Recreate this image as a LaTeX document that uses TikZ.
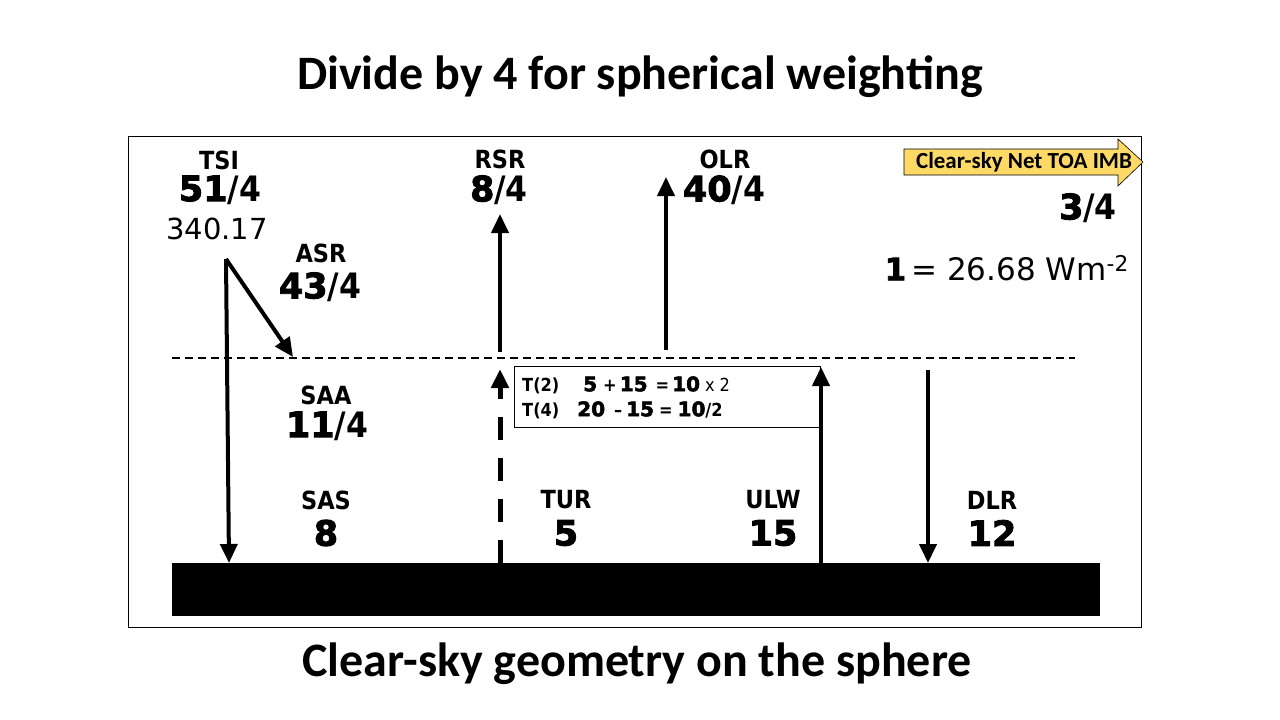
\documentclass[tikz,border=0pt]{standalone}
\usepackage{fontspec}
\setmainfont{DejaVu Sans}
\newfontfamily\ttlfont{Carlito}
\newfontfamily\labfont{DejaVu Sans Condensed}
\newfontfamily\heavyfont{DejaVu Sans}[UprightFont={DejaVu Sans Bold},UprightFeatures={FakeBold=2.5},BoldFont={DejaVu Sans Bold},BoldFeatures={FakeBold=2.5}]
\usetikzlibrary{arrows.meta}
\definecolor{ink}{HTML}{000000}
\definecolor{banner}{HTML}{FFD966}
\newcommand{\hv}[1]{{\heavyfont #1}}
\newcommand{\hvs}[1]{{\heavyfont\fontsize{20}{22}\selectfont #1}}
\tikzset{
  ttl/.style={font=\ttlfont\bfseries\fontsize{48}{52}\selectfont,text=ink,inner sep=0pt},
  lab/.style={font=\labfont\bfseries\fontsize{25}{27}\selectfont,text=ink,inner sep=0pt},
  val/.style={font=\labfont\bfseries\fontsize{35}{37}\selectfont,text=ink,inner sep=0pt},
  reg/.style={font=\fontsize{29}{31}\selectfont,text=ink,inner sep=0pt},
  small/.style={font=\labfont\bfseries\fontsize{18}{20}\selectfont,text=ink,inner sep=0pt,anchor=west},
  ar/.style={-{Triangle[length=19pt,width=17pt]},draw=ink,line width=4pt},
  ard/.style={ar,line width=5pt,dash pattern=on 23pt off 18pt},
  lvl/.style={draw=ink,line width=1.3pt,dash pattern=on 8pt off 5pt},
}
\begin{document}
\begin{tikzpicture}[x=1pt,y=-1pt]
\useasboundingbox (0,0) rectangle (1280,720);
\node[ttl] (toptitle) at (640,77) {Divide by 4 for spherical weighting};
\node[ttl] (bottitle) at (637,664) {Clear-sky geometry on the sphere};
\node[draw=ink,line width=1pt,minimum width=1013pt,minimum height=491pt,inner sep=0pt] (frame) at (634.5,381.5) {};
\node[fill=ink,minimum width=928pt,minimum height=53pt,inner sep=0pt] (ground) at (636,589.5) {};
\coordinate (lvlw) at (172,358);
\coordinate (lvle) at (1075,358);
\draw[lvl] (lvlw) -- (lvle);
% top of atmosphere
\node[lab] (tsilab) at (219,160) {TSI};
\node[val] (tsival) at (220,190) {\hv{51}/4};
\node[reg] (tsiw) at (217,229) {340.17};
\node[lab] (asrlab) at (321,253) {ASR};
\node[val] (asrval) at (320,287) {\hv{43}/4};
\node[lab] (rsrlab) at (500,159) {RSR};
\node[val] (rsrval) at (499,190) {\hv{8}/4};
\node[lab] (olrlab) at (725,159) {OLR};
\node[val] (olrval) at (724,190) {\hv{40}/4};
\fill[banner,draw=ink,line width=.6pt] (904,149) -- (1118,149) -- (1118,139) -- (1143,162) -- (1118,186) -- (1118,175) -- (904,175) -- cycle;
\node[font=\ttlfont\bfseries\fontsize{23}{25}\selectfont,inner sep=0pt] (imb) at (1024,162) {Clear-sky Net TOA IMB};
\node[val] (imbval) at (1088,208) {\hv{3}/4};
\node[reg,font=\fontsize{31}{33}\selectfont,anchor=east] (unit) at (1129,268) {\hv{1}\,= 26.68 Wm\textsuperscript{-2}};
\coordinate (sun) at (226,259);
\coordinate (tsiend) at (229,563);
\coordinate (asrend) at (293,357);
\draw[ar] (sun) -- (tsiend);
\draw[ar] (sun) -- (asrend);
\coordinate (rsrbase) at (500,352);
\coordinate (rsrtip) at (500,214);
\draw[ar] (rsrbase) -- (rsrtip);
\coordinate (olrbase) at (666,350);
\coordinate (olrtip) at (666,177);
\draw[ar] (olrbase) -- (olrtip);
% atmosphere and surface
\node[lab] (saalab) at (326,395) {SAA};
\node[val] (saaval) at (327,426) {\hv{11}/4};
\node[draw=ink,line width=.8pt,minimum width=306pt,minimum height=61pt,inner sep=0pt] (tbox) at (667,396.5) {};
\node[small] (trow1) at (522,385) {T(2)\hspace{24pt}\hvs{5}\hspace{6pt}+\hspace{3pt}\hvs{15}\hspace{8pt}=\hspace{3pt}\hvs{10}\hspace{5pt}\mdseries x 2};
\node[small] (trow2) at (522,410) {T(4)\hspace{18pt}\hvs{20}\hspace{9pt}–\hspace{4pt}\hvs{15}\hspace{5pt}=\hspace{5pt}\hvs{10}/2};
\coordinate (turbase) at (500,563);
\coordinate (turtip) at (500,369);
\draw[ard] (turbase) -- (turtip);
\coordinate (ulwbase) at (821,563);
\coordinate (ulwtip) at (821,367);
\draw[ar] (ulwbase) -- (ulwtip);
\coordinate (dlrbase) at (928,370);
\coordinate (dlrtip) at (928,563);
\draw[ar] (dlrbase) -- (dlrtip);
\node[lab] (saslab) at (326,500) {SAS};
\node[val] (sasval) at (326,533) {\hv{8}};
\node[lab] (turlab) at (566,500) {TUR};
\node[val] (turval) at (566,533) {\hv{5}};
\node[lab] (ulwlab) at (773,500) {ULW};
\node[val] (ulwval) at (773,533) {\hv{15}};
\node[lab] (dlrlab) at (992,500) {DLR};
\node[val] (dlrval) at (992,533) {\hv{12}};
\end{tikzpicture}
\end{document}
